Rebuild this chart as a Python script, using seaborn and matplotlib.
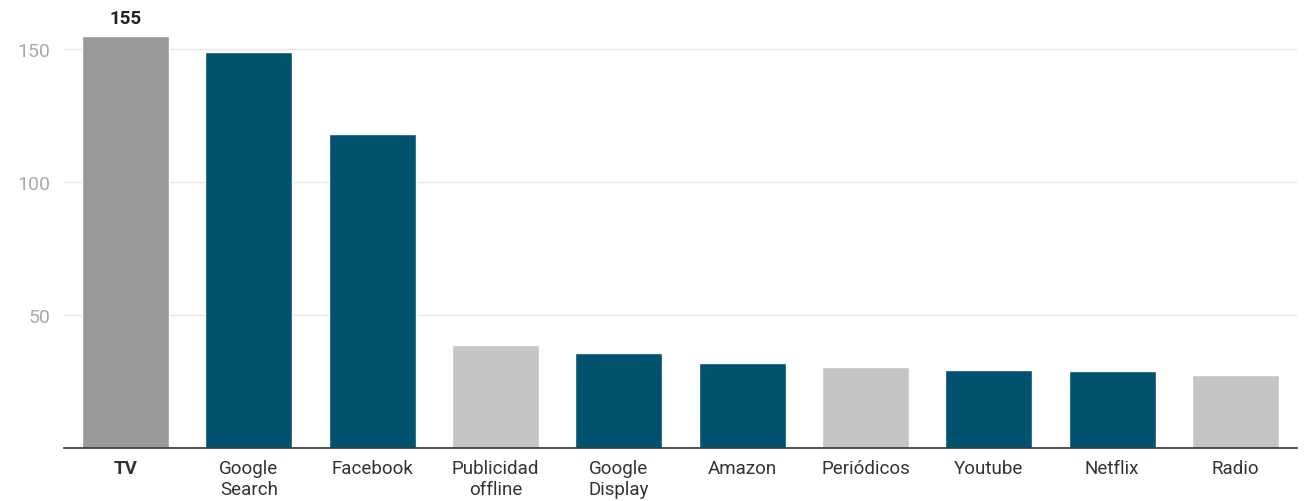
import matplotlib.pyplot as plt
import seaborn as sns
import pandas as pd

# datos
canales = ['TV', 'Google\nSearch', 'Facebook', 'Publicidad\noffline', 'Google\nDisplay',
           'Amazon', 'Periódicos', 'Youtube', 'Netflix', 'Radio']
valores = [155, 149, 118, 38.7, 35.6, 32, 30.5, 29.3, 28.8, 27.4]
colores = ['#999999', '#00526f', '#00526f', '#c4c4c4', '#00526f',
           '#00526f', '#c4c4c4', '#00526f', '#00526f', '#c4c4c4']
yticks = [50, 100, 150]

sns.set_style('white')
plt.rcParams['font.family'] = ['Roboto', 'DejaVu Sans']

df = pd.DataFrame({'canal': canales, 'valor': valores})

fig = plt.figure(figsize=(13.06, 5.02), dpi=100)
ax = fig.add_axes([64/1306, 53/502, (1297-64)/1306, (449-23.4)/502])

sns.barplot(data=df, x='canal', y='valor', hue='canal', palette=colores,
            width=0.705, legend=False, saturation=1, ax=ax)

ax.set_ylim(0, 160)
ax.set_xlim(-0.5, len(canales) - 0.5)
ax.set_yticks(yticks)
ax.yaxis.grid(True, color='#e6e6e6', linewidth=1)
ax.set_axisbelow(True)
ax.set_xlabel('')
ax.set_ylabel('')

for s in ['top', 'right', 'left']:
    ax.spines[s].set_visible(False)
ax.spines['bottom'].set_color('#333333')
ax.spines['bottom'].set_linewidth(1.2)

ax.tick_params(axis='y', length=0, pad=10, labelsize=14, labelcolor='#aaaaaa')
ax.tick_params(axis='x', length=0, pad=8, labelsize=13.5, labelcolor='#333333')
for lbl in ax.get_xticklabels():
    lbl.set_linespacing(1.2)
    lbl.set_va('top')
ax.get_xticklabels()[0].set_fontweight('bold')

# etiqueta solo en TV
ax.text(0, valores[0] + 3.2, '155', ha='center', va='bottom', fontsize=13.5,
        fontweight='bold', color='#222222')

fig.savefig('out.png', dpi=100)
